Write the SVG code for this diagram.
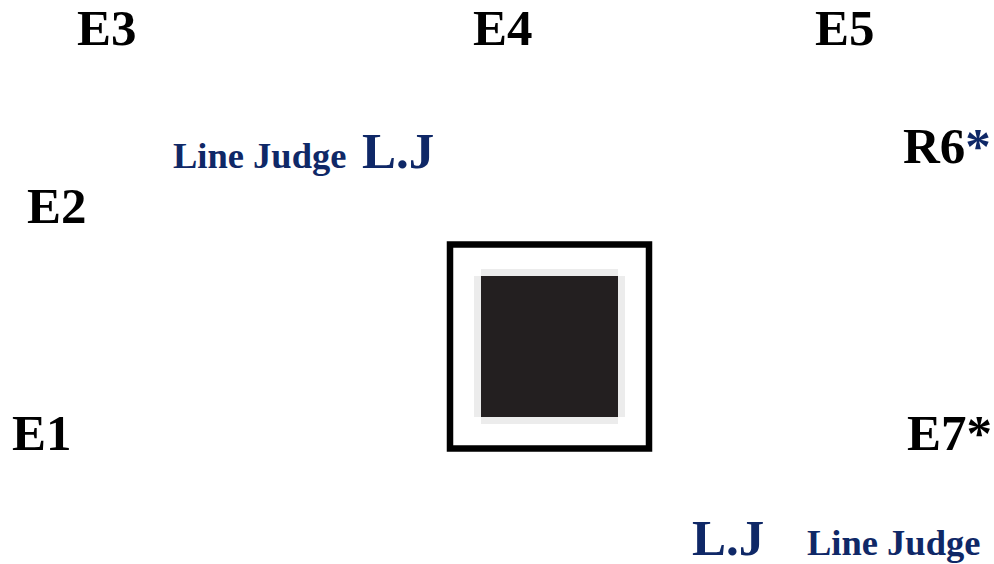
<svg xmlns="http://www.w3.org/2000/svg" width="994" height="564" viewBox="0 0 994 564">
<defs>
<style>
.b{fill:#0f2867}
</style>
</defs>
<rect width="994" height="564" fill="#fff"/>
<g id="court">
<rect x="450" y="244.5" width="199" height="204" fill="#fff" stroke="#000" stroke-width="6.5"/>
<rect x="481" y="269" width="137" height="155" fill="#ececec"/>
<rect x="474" y="276" width="151" height="141" fill="#ececec"/>
<rect x="481" y="276" width="137" height="141" fill="#231f20"/>
</g>
<g font-family="Liberation Serif" font-weight="bold" font-size="51" fill="#000">
<g id="E3"><text x="77" y="45">E3</text></g>
<g id="E4"><text x="473" y="45">E4</text></g>
<g id="E5"><text x="815" y="45">E5</text></g>
<g id="E2"><text x="27" y="223">E2</text></g>
<g id="E1"><text x="12" y="450">E1</text></g>
<g id="R6"><text x="903" y="163">R6<tspan class="b">*</tspan></text></g>
<g id="E7"><text x="907" y="450">E7*</text></g>
<g id="LJ1"><text class="b" x="173" y="168" font-size="36.5">Line Judge</text><text class="b" x="362" y="168">L.J</text></g>
<g id="LJ2"><text class="b" x="692" y="555">L.J</text><text class="b" x="807" y="555" font-size="36.5">Line Judge</text></g>
</g>
<g id="connectors"/>
</svg>
